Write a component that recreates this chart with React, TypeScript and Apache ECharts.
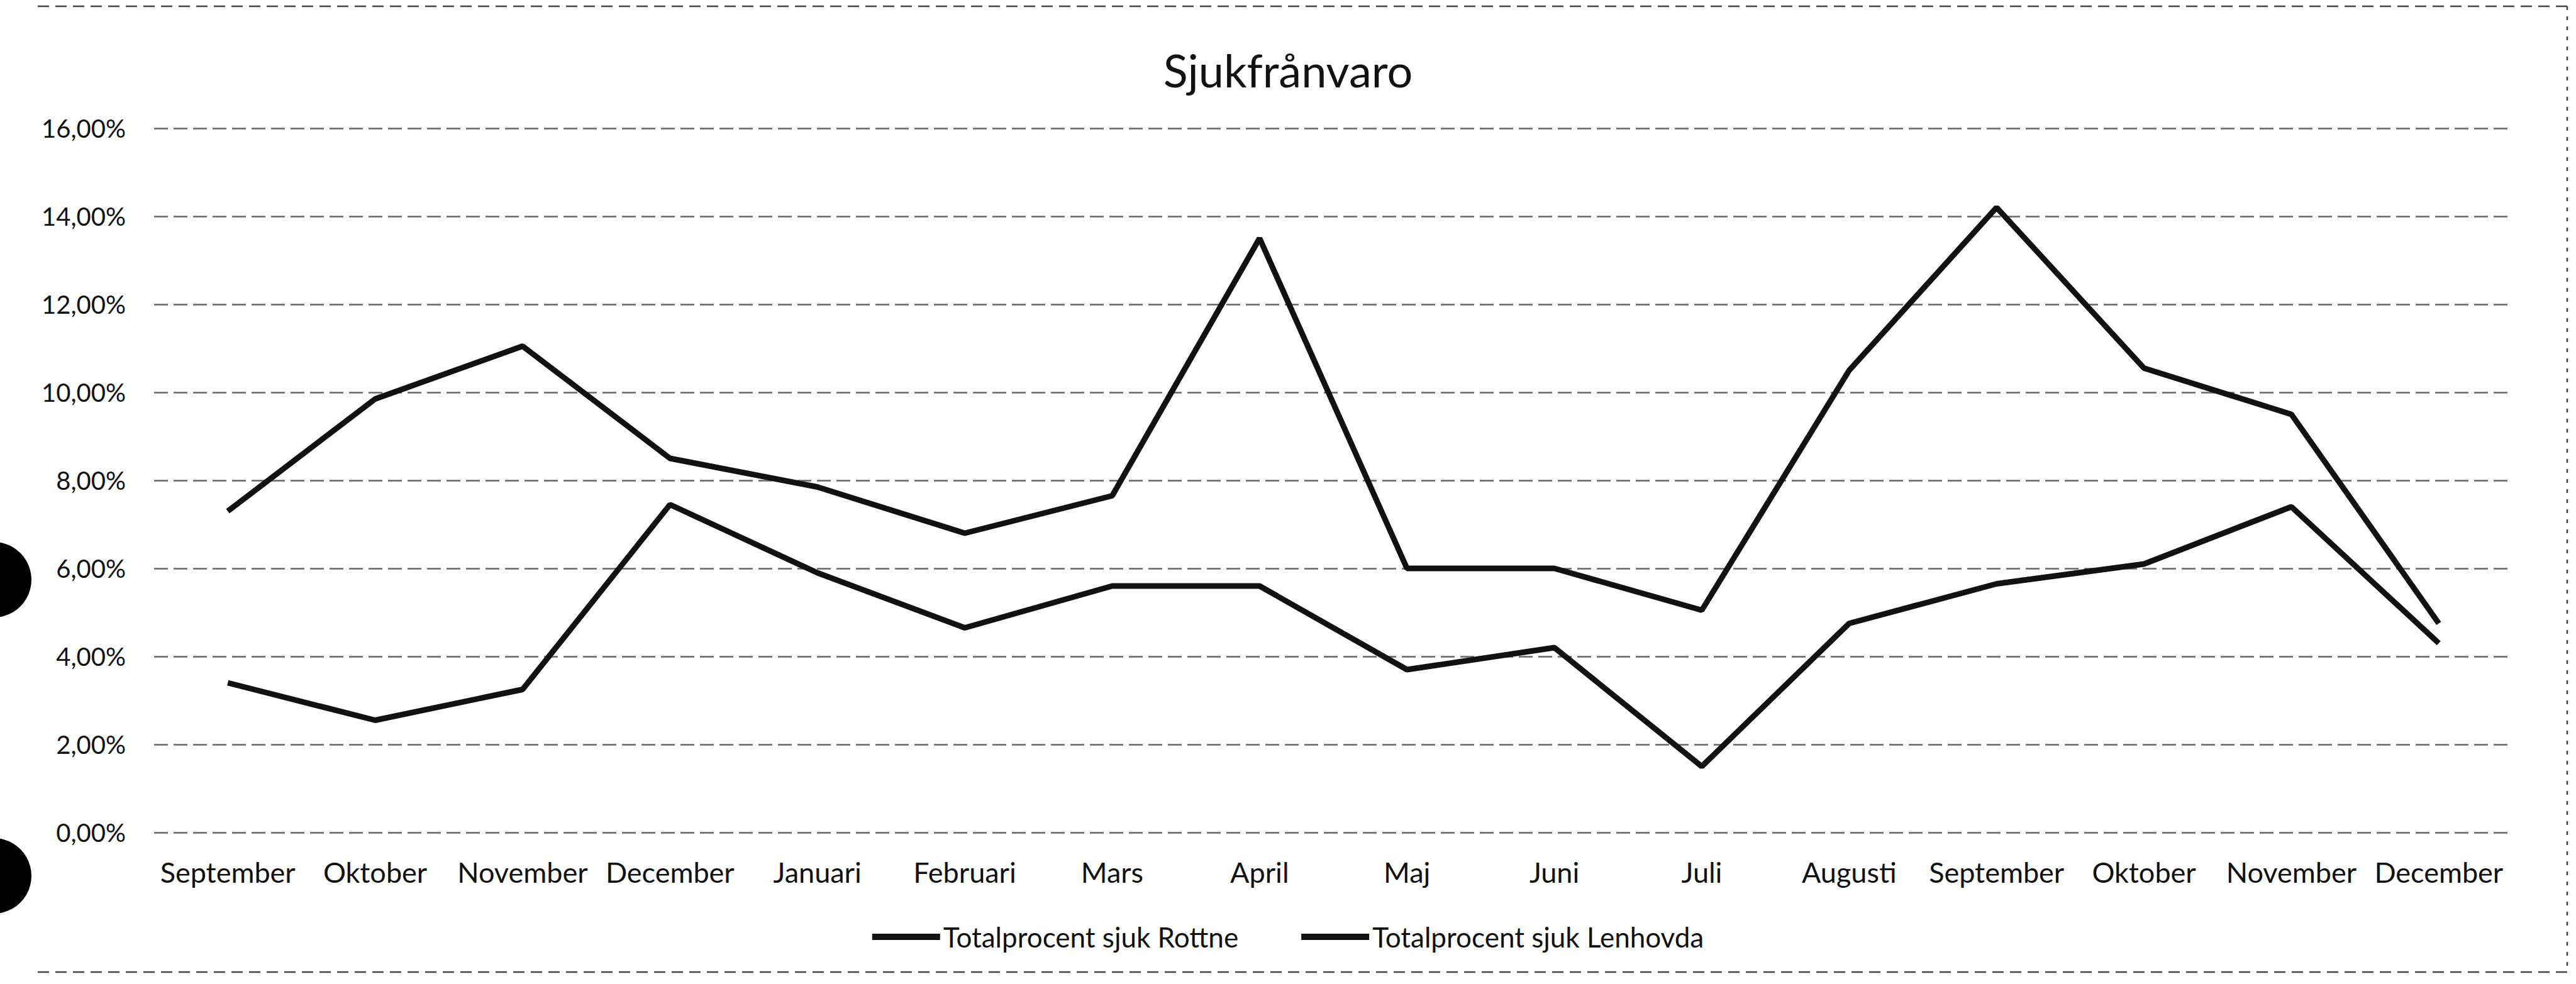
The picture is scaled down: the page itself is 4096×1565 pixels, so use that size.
import React, { useEffect, useRef } from "react";
import * as echarts from "echarts";

const categories = [
  "September", "Oktober", "November", "December", "Januari", "Februari", "Mars", "April",
  "Maj", "Juni", "Juli", "Augusti", "September", "Oktober", "November", "December",
];
const seriesNames = ["Totalprocent sjuk Rottne", "Totalprocent sjuk Lenhovda"];
const rottne = [7.3, 9.85, 11.05, 8.5, 7.85, 6.8, 7.65, 13.5, 6.0, 6.0, 5.05, 10.5, 14.2, 10.55, 9.5, 4.75];
const lenhovda = [3.4, 2.55, 3.25, 7.45, 5.9, 4.65, 5.6, 5.6, 3.7, 4.2, 1.5, 4.75, 5.65, 6.1, 7.4, 4.3];
const yTicks = { min: 0, max: 16, interval: 2 };
const title = "Sjukfrånvaro";

const FONT = "Lato, 'Open Sans', sans-serif";
const INK = "#111111";

export default function App() {
  const ref = useRef<HTMLDivElement>(null);
  useEffect(() => {
    document.body.style.margin = "0";
    const chart = echarts.init(ref.current!, undefined, { renderer: "svg" });
    chart.setOption({
      animation: false,
      backgroundColor: "#ffffff",
      title: {
        text: title,
        left: "center",
        top: 70,
        textStyle: { fontFamily: FONT, fontSize: 72, fontWeight: "normal", color: INK },
      },
      legend: {
        data: seriesNames,
        left: "center",
        top: 1463,
        icon: "rect",
        itemWidth: 108,
        itemHeight: 10,
        itemGap: 100,
        textStyle: { fontFamily: FONT, fontSize: 44, color: INK },
      },
      grid: { left: 245, right: 101, top: 204, bottom: 241, containLabel: false },
      xAxis: {
        type: "category",
        data: categories,
        boundaryGap: true,
        axisLine: { show: false },
        axisTick: { show: false },
        axisLabel: { fontFamily: FONT, fontSize: 45, color: INK, margin: 40, interval: 0 },
      },
      yAxis: {
        type: "value",
        min: yTicks.min,
        max: yTicks.max,
        interval: yTicks.interval,
        axisLine: { show: false },
        axisTick: { show: false },
        axisLabel: {
          fontFamily: FONT,
          fontSize: 40,
          color: INK,
          margin: 45,
          formatter: (v: number) => v.toFixed(2).replace(".", ",") + "%",
        },
        splitLine: { lineStyle: { color: "#666666", width: 2.5, type: [22, 9] } },
      },
      series: [
        {
          name: seriesNames[0],
          type: "line",
          data: rottne,
          symbol: "none",
          lineStyle: { color: INK, width: 9 },
          itemStyle: { color: INK },
        },
        {
          name: seriesNames[1],
          type: "line",
          data: lenhovda,
          symbol: "none",
          lineStyle: { color: INK, width: 9 },
          itemStyle: { color: INK },
        },
      ],
      graphic: [
        { type: "line", shape: { x1: 60, y1: 10, x2: 4082, y2: 10 }, style: { stroke: "#444", lineWidth: 2.5, lineDash: [18, 10] } },
        { type: "line", shape: { x1: 60, y1: 1546, x2: 4082, y2: 1546 }, style: { stroke: "#444", lineWidth: 2.5, lineDash: [18, 10] } },
        { type: "line", shape: { x1: 4082, y1: 10, x2: 4082, y2: 1546 }, style: { stroke: "#444", lineWidth: 2.5, lineDash: [6, 10] } },
        { type: "circle", shape: { cx: -10, cy: 922, r: 60 }, style: { fill: "#000" } },
        { type: "circle", shape: { cx: -10, cy: 1393, r: 60 }, style: { fill: "#000" } },
      ],
    });
    return () => chart.dispose();
  }, []);
  return (
    <div
      ref={ref}
      style={{ position: "fixed", left: 0, top: 0, width: 4096, height: 1565, background: "#fff" }}
    />
  );
}
